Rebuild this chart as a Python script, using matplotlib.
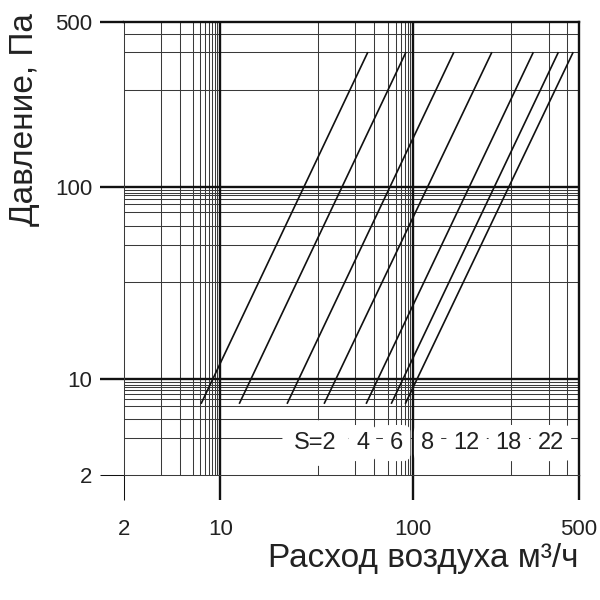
import numpy as np
import matplotlib
matplotlib.use("Agg")
import matplotlib.pyplot as plt

plt.rcParams['font.family'] = ['Liberation Sans', 'DejaVu Sans']

# ---- data ----
series_labels = ["S=2", "4", "6", "8", "12", "18", "22"]
flow_start = [7.3, 12.6, 22.3, 34.7, 57.3, 77.3, 91.4]      # m3/h at lower end
flow_end = [58.0, 91.4, 148.0, 214.0, 320.0, 408.0, 471.0]  # m3/h at upper end
pressure_start = 6.7   # Pa
pressure_end = 370.0   # Pa

tick_values = [2, 10, 100, 500]
tick_labels = ["2", "10", "100", "500"]
major_lines = [10, 100]
minor_lines = [3.72, 5.11, 6.36, 7.15, 7.78, 8.31, 8.75, 9.12, 9.51,
               32.1, 50.0, 62.7, 74.2, 81.6, 86.6, 90.9, 93.6, 96.5,
               258.0, 374.0, 445.0]

label_x = [31.2, 54.7, 82.1, 115.0, 168.0, 253.0, 381.0]
label_y = 3.42


# ---- piecewise logarithmic scale (as drawn in the original) ----
L2, L5 = np.log10(2), np.log10(5)


def fwd(v):
    v = np.asarray(v, dtype=float)
    lv = np.log10(np.clip(v, 1e-6, None))
    return np.where(lv <= 1, 96 * (lv - L2) / L5,
                    np.where(lv <= 2, 96 + 192.5 * (lv - 1),
                             288.5 + 165.5 * (lv - 2) / L5))


def inv(u):
    u = np.asarray(u, dtype=float)
    return np.where(u <= 96, 2 * 5 ** (u / 96),
                    np.where(u <= 288.5, 10 * 10 ** ((u - 96) / 192.5),
                             100 * 5 ** ((u - 288.5) / 165.5)))


fig = plt.figure(figsize=(6, 6), dpi=100)
ax = fig.add_axes([124 / 600, 125 / 600, 455 / 600, 453 / 600])
ax.set_xscale('function', functions=(fwd, inv))
ax.set_yscale('function', functions=(fwd, inv))
ax.set_xlim(2, 500)
ax.set_ylim(2, 500)

grid_col = '#3a3a3a'
for v in minor_lines:
    ax.axvline(v, color=grid_col, lw=0.75, zorder=1)
    ax.axhline(v, color=grid_col, lw=0.75, zorder=1)
for v in major_lines:
    ax.axvline(v, color='#111111', lw=1.7, zorder=2)
    ax.axhline(v, color='#111111', lw=1.7, zorder=2)

for s, e in zip(flow_start, flow_end):
    ax.plot([s, e], [pressure_start, pressure_end], color='#111111', lw=1.2, zorder=3)

for txt, x in zip(series_labels, label_x):
    pad = 0.5 if txt == "S=2" else 0.3
    ax.text(x, label_y, txt, ha='center', va='center', fontsize=17, color='#222222',
            zorder=5, bbox=dict(boxstyle=f'round,pad={pad}', fc='white', ec='none'))

# spines
for side in ['left', 'bottom']:
    ax.spines[side].set_linewidth(0.75)
    ax.spines[side].set_color(grid_col)
for side in ['top', 'right']:
    ax.spines[side].set_linewidth(1.7)
    ax.spines[side].set_color('#111111')

ax.set_xticks(tick_values)
ax.set_xticklabels(tick_labels)
ax.set_yticks(tick_values)
ax.set_yticklabels(tick_labels)
ax.xaxis.set_minor_locator(matplotlib.ticker.NullLocator())
ax.yaxis.set_minor_locator(matplotlib.ticker.NullLocator())
ax.tick_params(axis='x', direction='out', length=18, width=1.7, pad=14,
               labelsize=16, labelcolor='#222222', color='#111111')
ax.tick_params(axis='y', direction='out', length=17, width=1.7, pad=6,
               labelsize=16, labelcolor='#222222', color='#111111')
ax.xaxis.get_major_ticks()[0].tick1line.set_markeredgewidth(0.75)
ax.yaxis.get_major_ticks()[0].tick1line.set_markeredgewidth(0.75)

ax.set_xlabel("Расход воздуха м³/ч", fontsize=24, color='#222222', loc='right')
ax.xaxis.set_label_coords(1.0, -0.15)
ax.set_ylabel("Давление, Па", fontsize=24, color='#222222', loc='top')
ax.yaxis.set_label_coords(-0.185, 1.02)

fig.savefig("out.png", dpi=100)
